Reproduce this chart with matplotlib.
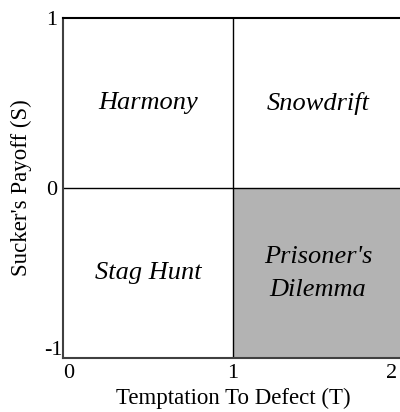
import matplotlib
matplotlib.use("Agg")
import matplotlib.pyplot as plt
from matplotlib.transforms import ScaledTranslation

# regiones del espaco T x S
games = ["Harmony", "Snowdrift", "Stag Hunt", "Prisoner's\nDilemma"]
game_x = [0.5, 1.5, 0.5, 1.5]
game_y = [0.5, 0.5, -0.5, -0.5]
x_ticks = [0, 1, 2]
y_ticks = [-1, 0, 1]

plt.rcParams['font.family'] = ['Liberation Serif', 'DejaVu Serif']

fig = plt.figure(figsize=(4.0, 4.12), dpi=100)
ax = fig.add_axes([0.1575, 0.131, 0.85, 0.825])
ax.set_xlim(0, 2)
ax.set_ylim(-1, 1)

# quadrante cinza do dilema do prisioneiro
ax.fill_between([1, 2], -1, 0, color='#b3b3b3', lw=0)
ax.axvline(1, color='black', lw=1)
ax.axhline(0, color='black', lw=1)

for name, x, y in zip(games, game_x, game_y):
    ax.text(x, y, name, ha='center', va='center', style='italic', fontsize=19, linespacing=1.65)

ax.set_xticks(x_ticks)
ax.set_xticklabels([str(t) for t in x_ticks], fontsize=16)
ax.set_yticks(y_ticks)
ax.set_yticklabels([str(t) for t in y_ticks], fontsize=16)
ax.tick_params(axis='x', length=0, pad=4)
ax.tick_params(axis='y', length=0, pad=4)

def shift(lbl, dx, dy):
    lbl.set_transform(lbl.get_transform() + ScaledTranslation(dx / 72, dy / 72, fig.dpi_scale_trans))

lbls = ax.get_xticklabels()
lbls[0].set_ha('left')
lbls[-1].set_ha('right')
shift(lbls[-1], -4, 0)
shift(ax.get_yticklabels()[0], 4, 7)

for s in ['left', 'bottom']:
    ax.spines[s].set_color('#404040')
    ax.spines[s].set_linewidth(1.5)
ax.spines['top'].set_linewidth(1.5)
ax.spines['right'].set_visible(False)

ax.set_xlabel("Temptation To Defect (T)", fontsize=16.5, labelpad=4)
ax.set_ylabel("Sucker's Payoff (S)", fontsize=16.5, labelpad=9)

fig.savefig("out.png", dpi=100)
